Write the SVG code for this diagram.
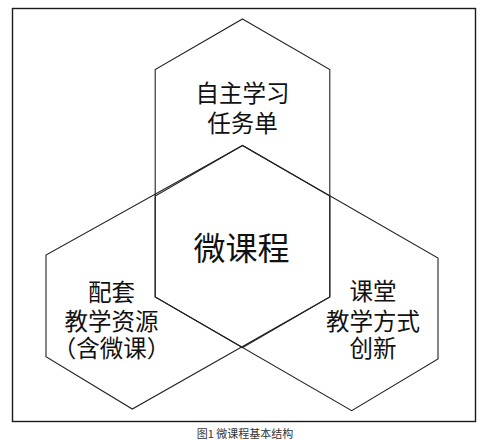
<svg xmlns="http://www.w3.org/2000/svg" width="493" height="440" viewBox="0 0 493 440">
<style>
.hex{fill:none;stroke:#222;stroke-width:1.1;stroke-linejoin:miter}
.frame{fill:none;stroke:#1a1a1a;stroke-width:1.4}
.t{font-family:"Noto Sans CJK SC","Noto Sans",sans-serif;fill:#111;text-anchor:middle}
.m{font-size:23.5px}
.big{font-size:32px}
.cap{font-family:"Noto Sans CJK SC","Noto Sans",sans-serif;font-size:11px;fill:#333;text-anchor:middle}
</style>
<rect width="493" height="440" fill="#fff"/>
<rect class="frame" x="12.5" y="8.5" width="463" height="413"/>
<g id="connectors"></g>
<g id="node-top">
<polygon class="hex" points="242.5,19 329.8,69.5 329.8,297 242.5,347.5 155.2,297 155.2,69.5"/>
<text class="t m" x="242.5" y="101.7">自主学习</text>
<text class="t m" x="242.5" y="131.5">任务单</text>
</g>
<g id="node-left">
<polygon class="hex" points="242.5,145.5 46,255 46,356.7 132.3,409 329.8,297 329.8,196"/>
<text class="t m" x="111.5" y="301.4">配套</text>
<text class="t m" x="111.5" y="330">教学资源</text>
<text class="t m" x="111.5" y="356.5">（含微课）</text>
</g>
<g id="node-right">
<polygon class="hex" points="242.5,145.5 438,258 438,359 351.7,410.7 155.2,297 155.2,196"/>
<text class="t m" x="373" y="300">课堂</text>
<text class="t m" x="373" y="330">教学方式</text>
<text class="t m" x="373" y="356.7">创新</text>
</g>
<g id="node-center">
<text class="t big" x="241.5" y="259.5">微课程</text>
</g>
<text class="cap" x="245" y="438">图1 微课程基本结构</text>
</svg>
